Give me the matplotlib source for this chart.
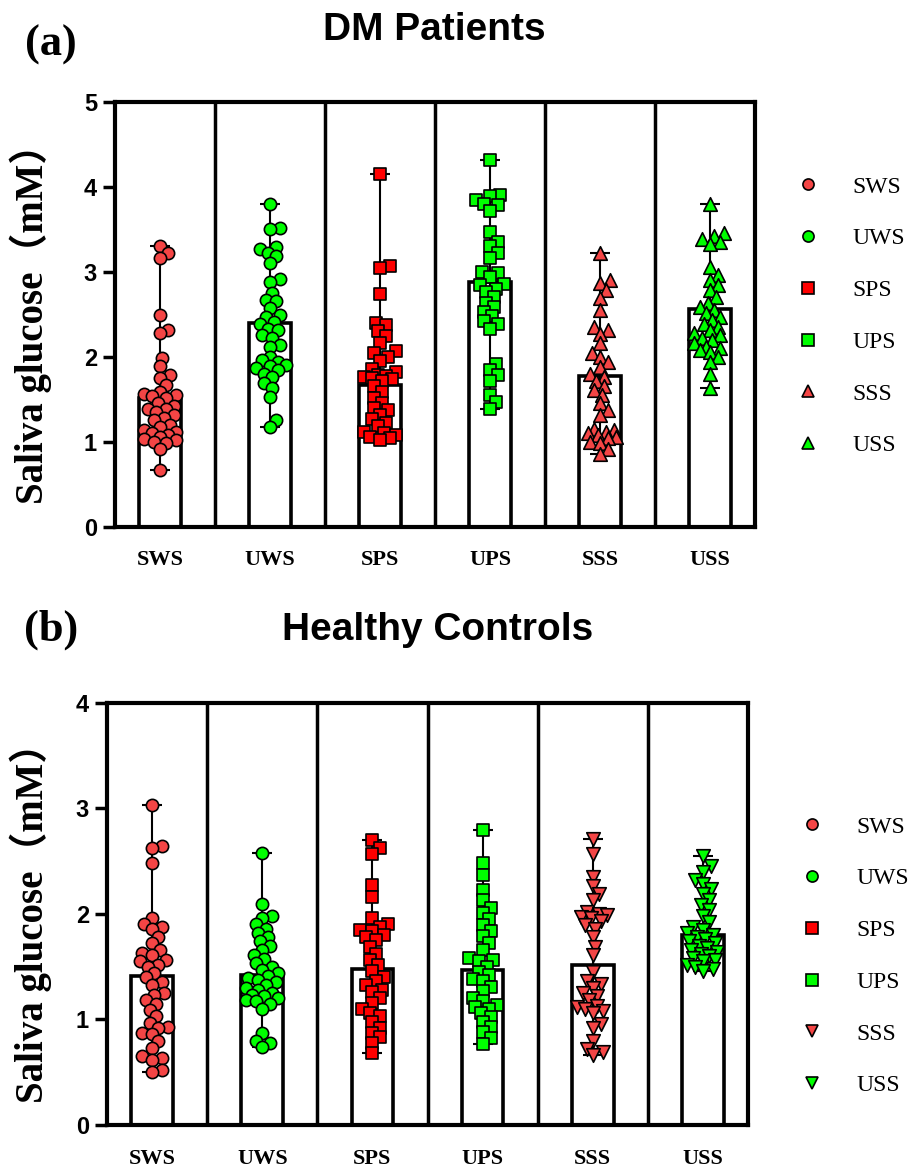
import matplotlib.pyplot as plt
from matplotlib.lines import Line2D
import numpy as np

##############################################################################
# data

groups = ['SWS', 'UWS', 'SPS', 'UPS', 'SSS', 'USS']

# (a) DM patients
dm_sws = [3.30, 3.22, 3.16, 2.49, 2.32, 2.28, 1.99, 1.89, 1.78, 1.75, 1.67, 1.58, 1.56,
          1.55, 1.54, 1.52, 1.45, 1.42, 1.39, 1.38, 1.35, 1.31, 1.28, 1.25, 1.20, 1.17,
          1.14, 1.12, 1.10, 1.08, 1.05, 1.03, 1.02, 1.00, 0.99, 0.91, 0.67]
dm_uws = [3.80, 3.52, 3.50, 3.29, 3.27, 3.22, 3.18, 3.10, 2.91, 2.88, 2.75, 2.67, 2.65,
          2.57, 2.49, 2.47, 2.41, 2.38, 2.33, 2.31, 2.25, 2.22, 2.14, 2.12, 2.00, 1.96,
          1.94, 1.90, 1.89, 1.87, 1.84, 1.80, 1.76, 1.69, 1.63, 1.53, 1.25, 1.17]
dm_sps = [4.15, 3.07, 3.04, 2.74, 2.40, 2.37, 2.30, 2.24, 2.16, 2.07, 2.04, 2.00, 1.95,
          1.86, 1.82, 1.78, 1.77, 1.76, 1.75, 1.74, 1.71, 1.65, 1.59, 1.52, 1.45, 1.40,
          1.37, 1.31, 1.27, 1.22, 1.18, 1.12, 1.10, 1.08, 1.05, 1.04, 1.02]
dm_ups = [4.31, 3.90, 3.89, 3.84, 3.80, 3.78, 3.72, 3.47, 3.35, 3.30, 3.22, 3.16, 3.00,
          2.98, 2.94, 2.86, 2.84, 2.80, 2.76, 2.70, 2.63, 2.58, 2.53, 2.48, 2.42, 2.39,
          2.33, 1.92, 1.84, 1.78, 1.71, 1.55, 1.47, 1.39]
dm_sss = [3.22, 2.90, 2.87, 2.78, 2.69, 2.55, 2.35, 2.31, 2.27, 2.16, 2.04, 2.00, 1.94,
          1.88, 1.80, 1.76, 1.71, 1.65, 1.61, 1.55, 1.45, 1.37, 1.31, 1.15, 1.14, 1.12,
          1.10, 1.08, 1.06, 1.04, 1.00, 0.98, 0.92, 0.86]
dm_uss = [3.80, 3.45, 3.42, 3.39, 3.35, 3.33, 3.06, 2.96, 2.90, 2.84, 2.78, 2.70, 2.63,
          2.59, 2.55, 2.51, 2.47, 2.43, 2.39, 2.35, 2.31, 2.28, 2.25, 2.22, 2.20, 2.16,
          2.12, 2.10, 2.08, 2.05, 2.00, 1.94, 1.80, 1.63]
dm_means = [1.51, 2.40, 1.67, 2.88, 1.77, 2.56]

# (b) healthy controls
hc_sws = [3.03, 2.64, 2.62, 2.48, 1.96, 1.90, 1.88, 1.86, 1.78, 1.72, 1.66, 1.63, 1.61,
          1.56, 1.55, 1.52, 1.50, 1.44, 1.40, 1.35, 1.33, 1.25, 1.23, 1.18, 1.15, 1.09,
          1.03, 0.97, 0.93, 0.92, 0.87, 0.86, 0.80, 0.73, 0.65, 0.63, 0.62, 0.52, 0.50]
hc_uws = [2.58, 2.09, 1.98, 1.96, 1.90, 1.86, 1.82, 1.78, 1.74, 1.70, 1.66, 1.61, 1.57,
          1.53, 1.50, 1.47, 1.44, 1.41, 1.39, 1.37, 1.35, 1.33, 1.30, 1.28, 1.25, 1.23,
          1.22, 1.20, 1.18, 1.17, 1.15, 1.10, 0.87, 0.80, 0.78, 0.74]
hc_sps = [2.70, 2.62, 2.57, 2.27, 2.16, 1.96, 1.90, 1.88, 1.85, 1.84, 1.80, 1.78, 1.75,
          1.69, 1.62, 1.56, 1.52, 1.46, 1.40, 1.36, 1.33, 1.28, 1.26, 1.20, 1.16, 1.10,
          1.06, 1.03, 0.98, 0.92, 0.87, 0.83, 0.78, 0.68]
hc_ups = [2.79, 2.48, 2.37, 2.23, 2.13, 2.06, 2.01, 1.95, 1.89, 1.84, 1.79, 1.72, 1.66,
          1.58, 1.56, 1.55, 1.50, 1.45, 1.42, 1.38, 1.36, 1.31, 1.27, 1.20, 1.17, 1.14,
          1.12, 1.10, 1.06, 1.02, 0.98, 0.93, 0.88, 0.82, 0.77]
hc_sss = [2.71, 2.57, 2.35, 2.26, 2.19, 2.13, 2.02, 2.00, 1.99, 1.97, 1.96, 1.93, 1.89,
          1.86, 1.78, 1.69, 1.61, 1.45, 1.36, 1.34, 1.30, 1.25, 1.22, 1.18, 1.13, 1.12,
          1.10, 1.08, 1.06, 0.96, 0.92, 0.80, 0.72, 0.69, 0.66]
hc_uss = [2.55, 2.45, 2.40, 2.32, 2.28, 2.24, 2.19, 2.13, 2.08, 2.04, 1.98, 1.92, 1.88,
          1.85, 1.82, 1.80, 1.78, 1.76, 1.74, 1.72, 1.70, 1.68, 1.66, 1.64, 1.62, 1.60,
          1.58, 1.56, 1.55, 1.52, 1.50, 1.48, 1.46]
hc_means = [1.41, 1.42, 1.48, 1.47, 1.52, 1.80]

##############################################################################
# style

pink_red = '#F44545'
red = '#FF0000'
green = '#00FF00'
colors = [pink_red, green, red, green, pink_red, green]
markers_a = ['o', 'o', 's', 's', '^', '^']
markers_b = ['o', 'o', 's', 's', 'v', 'v']
sizes = {'o': 78, 's': 80, '^': 95, 'v': 95}

serif = ['Liberation Serif', 'Noto Sans CJK SC']
sans = 'Liberation Sans'

W, H = 914, 1175
fig = plt.figure(figsize=(W / 100, H / 100), dpi=100)


def swarm(vals, xpx, ypx, diam=12.0, step=2.0, maxoff=17.0):
    """simple beeswarm offsets (returned in data units)"""
    vals = np.asarray(vals)
    placed = []
    offs = np.zeros(len(vals))
    thr = 0.72 * diam
    cands = [0.0]
    k = 1
    while k * step <= maxoff:
        cands += [k * step, -k * step]
        k += 1
    for i in np.argsort(vals):
        y = vals[i] * ypx
        best, bestd = 0.0, -1
        for c in cands:
            d = min([np.hypot(c - px, y - py) for px, py in placed] + [1e9])
            if d >= thr:
                best = c
                break
            if d > bestd:
                best, bestd = c, d
        placed.append((best, y))
        offs[i] = best / xpx
    return offs


def panel(rect, data, means, markers, ymax):
    ax = fig.add_axes(rect)
    ax.set_xlim(-0.41, 5.41)
    ax.set_ylim(0, ymax)
    x = np.arange(len(groups))

    xpx = rect[2] * W / (5.41 + 0.41)
    ypx = rect[3] * H / ymax

    for s in [i + 0.5 for i in range(5)]:
        ax.axvline(s, color='black', lw=2.5, zorder=1)

    ax.bar(x, means, width=0.38, color='white', edgecolor='black', linewidth=2.6, zorder=1.5)

    for i, vals in enumerate(data):
        lo, hi = min(vals), max(vals)
        ax.errorbar(x[i], means[i], yerr=[[means[i] - lo], [hi - means[i]]], fmt='none',
                    ecolor='black', elinewidth=1.5, capsize=7, capthick=1.5, zorder=2)
        offs = swarm(vals, xpx, ypx)
        ax.scatter(x[i] + offs, vals, s=sizes[markers[i]], marker=markers[i], c=colors[i],
                   edgecolors='black', linewidths=1.2, zorder=3)

    for sp in ax.spines.values():
        sp.set_linewidth(3)
    ax.set_yticks(range(ymax + 1))
    ax.tick_params(axis='y', length=9, width=2.5, pad=4, labelsize=17)
    for lab in ax.get_yticklabels():
        lab.set_fontweight('bold')
        lab.set_family(sans)
    ax.set_xticks(x)
    ax.set_xticklabels(groups, fontsize=16, fontweight='bold', family=serif)
    ax.tick_params(axis='x', length=0, pad=17)

    handles = [Line2D([], [], ls='none', marker=markers[i], markersize=8,
                      markerfacecolor=colors[i], markeredgecolor='black', markeredgewidth=1.2,
                      label=groups[i]) for i in range(6)]
    return ax, handles


# (a)
ax_a, h_a = panel([115 / W, 1 - 526.7 / H, 640 / W, 425 / H],
                  [dm_sws, dm_uws, dm_sps, dm_ups, dm_sss, dm_uss], dm_means, markers_a, 5)
# (b)
ax_b, h_b = panel([107 / W, 1 - 1125 / H, 641 / W, 422.3 / H],
                  [hc_sws, hc_uws, hc_sps, hc_ups, hc_sss, hc_uss], hc_means, markers_b, 4)

# legends
for ax, h, xy in [(ax_a, h_a, (796, 176)), (ax_b, h_b, (800, 816))]:
    ax.legend(handles=h, loc='upper left', bbox_to_anchor=(xy[0] / W, 1 - xy[1] / H),
              bbox_transform=fig.transFigure, frameon=False,
              prop={'family': 'Liberation Serif', 'size': 17},
              labelspacing=1.28, handlelength=1.0, handletextpad=1.4,
              borderpad=0, borderaxespad=0)

# labels / titles
for ax, yc in [(ax_a, (101.7 + 526.7) / 2), (ax_b, (702.7 + 1125) / 2)]:
    fig.text(31 / W, 1 - yc / H, 'Saliva glucose（mM）', rotation=90, ha='center', va='center',
             fontsize=28, fontweight='bold', family=serif)

fig.text(434 / W, 1 - 30 / H, 'DM Patients', ha='center', va='center',
         fontsize=28, fontweight='bold', family=sans)
fig.text(438 / W, 1 - 630 / H, 'Healthy Controls', ha='center', va='center',
         fontsize=28, fontweight='bold', family=sans)
fig.text(51 / W, 1 - 45 / H, '(a)', ha='center', va='center',
         fontsize=32, fontweight='bold', family='Liberation Serif')
fig.text(51 / W, 1 - 630 / H, '(b)', ha='center', va='center',
         fontsize=32, fontweight='bold', family='Liberation Serif')

fig.savefig('out.png', dpi=100)
